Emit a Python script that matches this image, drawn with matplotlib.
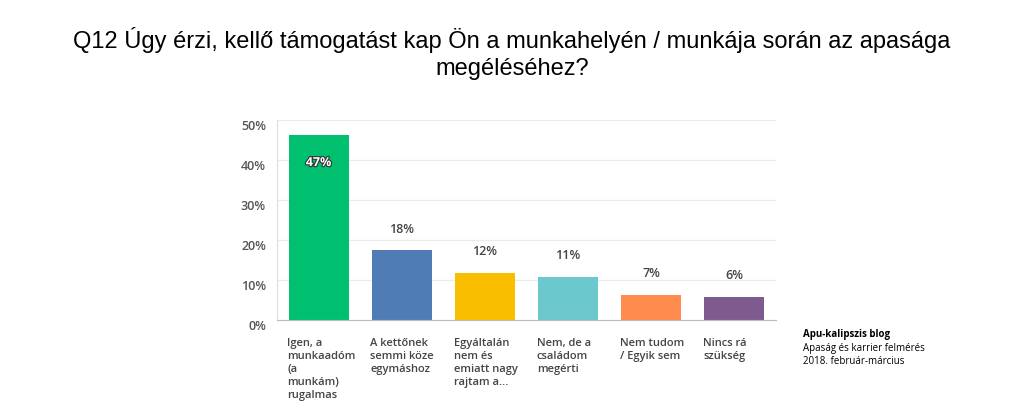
import matplotlib
matplotlib.use("Agg")
import matplotlib.pyplot as plt
import matplotlib.patheffects as pe

categories = ["Igen, a\nmunkaadóm\n(a\nmunkám)\nrugalmas",
              "A kettőnek\nsemmi köze\negymáshoz",
              "Egyáltalán\nnem és\nemiatt nagy\nrajtam a...",
              "Nem, de a\ncsaládom\nmegérti",
              "Nem tudom\n/ Egyik sem",
              "Nincs rá\nszükség"]
values = [46.3, 17.5, 11.8, 10.8, 6.3, 5.8]
value_labels = ["47%", "18%", "12%", "11%", "7%", "6%"]
colors = ["#00BF6F", "#507CB6", "#F9BE00", "#6BC8CD", "#FF8B4F", "#7F5A8F"]
yticks = [0, 10, 20, 30, 40, 50]
ytick_labels = ["0%", "10%", "20%", "30%", "40%", "50%"]
title = "Q12 Úgy érzi, kellő támogatást kap Ön a munkahelyén / munkája során az apasága\nmegéléséhez?"
source_lines = ["Apu-kalipszis blog", "Apaság és karrier felmérés", "2018. február-március"]

fig = plt.figure(figsize=(10.24, 4.03), dpi=100)
fig.patch.set_facecolor("white")
ax = fig.add_axes([277/1024, 1-320/403, 499/1024, 200/403])

x = list(range(len(categories)))
bars = ax.bar(x, values, width=0.72, color=colors, zorder=3)
ax.set_xlim(-0.5, len(categories) - 0.5)
ax.set_ylim(0, 50)
ax.set_yticks(yticks)
ax.set_yticklabels(ytick_labels, fontsize=9, color="#555555", fontweight="semibold",
                   family="Open Sans", va="top")
ax.set_xticks([])
ax.grid(axis="y", color="#ebebeb", linewidth=0.9, zorder=0)
ax.tick_params(axis="y", length=0, pad=8)
for s in ["top", "right"]:
    ax.spines[s].set_visible(False)
ax.spines["left"].set_color("#dddddd")
ax.spines["bottom"].set_color("#bbbbbb")
ax.spines["bottom"].set_zorder(4)

for i, (v, lab) in enumerate(zip(values, value_labels)):
    if i == 0:
        ax.annotate(lab, (i, v), xytext=(0, -20), textcoords="offset points",
                    ha="center", va="center", fontsize=9, fontweight="bold",
                    family="Open Sans", color="white", zorder=5,
                    path_effects=[pe.withStroke(linewidth=1.6, foreground="#333333")])
    else:
        ax.annotate(lab, (i, v), xytext=(0, 15), textcoords="offset points",
                    ha="center", va="center", fontsize=9, fontweight="semibold",
                    family="Open Sans", color="#444444", zorder=5)

for i, cat in enumerate(categories):
    ax.annotate(cat, (i - 0.36, 0), xytext=(-1, -13), textcoords="offset points",
                ha="left", va="top", fontsize=8, fontweight="semibold",
                family="Open Sans", color="#444444", linespacing=1.25,
                annotation_clip=False)

fig.text(0.5, 1 - 27/403, title, ha="center", va="top", fontsize=17,
         family="Liberation Sans", color="black", linespacing=1.3)

fig.text(803/1024, 1 - 335/403, source_lines[0], ha="left", va="center",
         fontsize=7, fontweight="bold", family="Open Sans", color="black")
fig.text(803/1024, 1 - 349/403, source_lines[1], ha="left", va="center",
         fontsize=7, family="Open Sans", color="black")
fig.text(803/1024, 1 - 362/403, source_lines[2], ha="left", va="center",
         fontsize=7, family="Open Sans", color="black")

fig.savefig("out.png", dpi=100, facecolor="white")
